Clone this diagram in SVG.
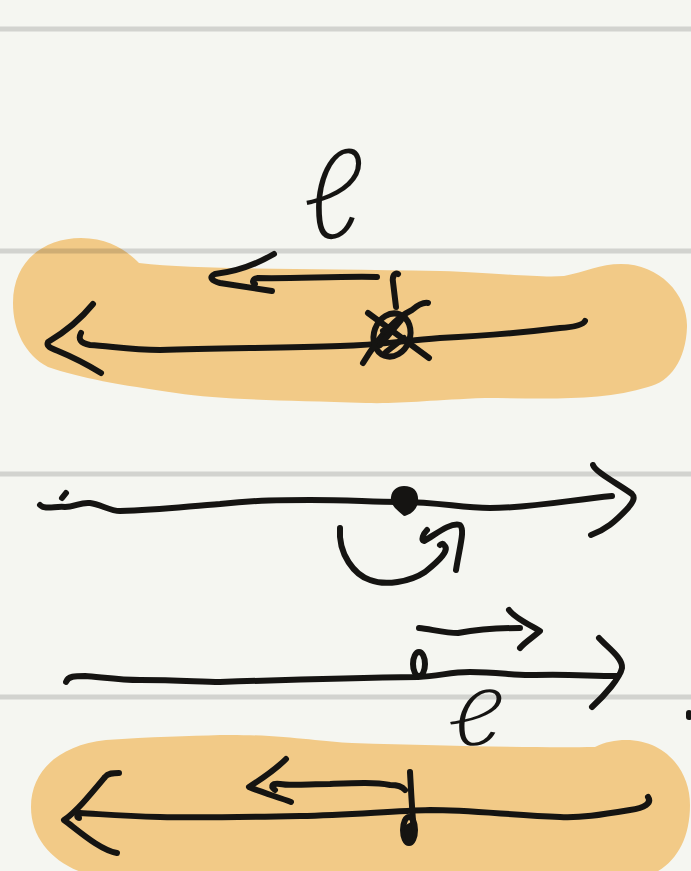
<svg xmlns="http://www.w3.org/2000/svg" width="691" height="871" viewBox="0 0 691 871">
<style>
.ink{fill:none;stroke:#151412;stroke-width:6;stroke-linecap:round;stroke-linejoin:round}
.rule{stroke:#000;stroke-opacity:0.14;stroke-width:5}
.blob{fill:#f2ca87}
.lbl{font-family:Lato,"DejaVu Sans",sans-serif;font-weight:300;fill:#151412}
</style>
<rect width="691" height="871" fill="#f5f6f1"/>
<g id="blobs">
<path class="blob" d="M13,303 C13,260 45,238 81,238 C110,238 128,252 139,263 C200,270 300,268 440,271 C500,273 540,278 564,276 C585,272 600,264 621,264 C660,264 688,295 687,327 C686,360 670,382 648,387 C600,402 540,398 485,398 C430,400 400,404 366,403 C280,400 220,400 176,393 C120,385 80,378 48,367 C25,355 13,330 13,303 Z"/>
<path class="blob" d="M31,807 C31,770 60,745 106,740 C150,737 190,736 220,735 C280,734 320,742 352,743 C450,746 540,748 595,747 C605,742 615,740 626,740 C665,740 690,770 690,805 C690,840 675,865 650,875 L90,875 C55,865 31,840 31,807 Z"/>
</g>
<g id="rules">
<line class="rule" x1="0" y1="29" x2="691" y2="29"/>
<line class="rule" x1="0" y1="251" x2="691" y2="251"/>
<line class="rule" x1="0" y1="474" x2="691" y2="474"/>
<line class="rule" x1="0" y1="697" x2="691" y2="697"/>
</g>
<g id="row1">
<text class="lbl" font-size="125" transform="translate(302 238)">ℓ</text>
<path class="ink" d="M377,277 C340,276 290,279 258,278 C252,279 252,283 255,284"/>
<path class="ink" d="M274,254 C255,265 235,272 215,274 C208,277 212,281 220,283 C240,286 258,289 272,291"/>
<path class="ink" d="M585,321 C583,325 575,327 560,328 C520,333 480,336 440,338 C400,341 380,345 340,346 C280,348 220,348 160,350 C130,350 110,346 90,345 C80,343 78,339 81,333"/>
<path class="ink" d="M93,304 C80,320 65,332 48,342 C46,346 50,348 58,351 C75,358 88,365 101,373"/>
<path class="ink" d="M398,274 C395,272 392,276 393,282 L396,307"/>
<ellipse class="ink" cx="392" cy="335" rx="18" ry="22" transform="rotate(20 392 335)"/>
<path class="ink" d="M368,313 L429,358 M363,363 C380,335 395,318 412,310 C418,305 423,302 428,303"/>
<path class="ink" stroke-width="4" d="M380,345 L401,320 M383,331 L398,323 M386,352 L404,338"/>
</g>
<g id="row2">
<path class="ink" d="M40,505 C45,510 55,506 65,507 C75,507 80,502 90,503 C100,504 110,511 120,511 C160,510 190,506 220,504 C260,500 280,500 310,500 C350,500 370,502 400,502 C440,502 460,508 490,508 C530,508 570,500 612,496"/>
<path class="ink" d="M62,498 L66,493"/>
<path fill="#151412" d="M404,486 C414,486 419,492 418,502 C417,510 410,515 404,516 C397,510 390,505 391,497 C392,490 397,486 404,486 Z"/>
<path class="ink" d="M593,465 C595,472 620,485 632,494 C636,498 632,503 628,508 C615,522 605,530 591,535"/>
<path class="ink" d="M340,528 C338,555 355,575 370,580 C385,586 410,582 425,572 C440,560 450,550 444,545 C443,543 441,544 440,545"/>
<path class="ink" d="M427,530 C423,534 421,540 424,541 C435,535 450,522 460,525 C465,530 460,545 456,570"/>
</g>
<g id="row3">
<path class="ink" d="M66,682 C68,676 75,676 85,676 C100,677 120,680 140,680 C180,680 200,682 220,682 C280,680 340,678 418,677 C440,676 450,672 470,672 C500,672 515,676 535,675 C570,674 590,676 617,676"/>
<ellipse class="ink" cx="419" cy="664" rx="6" ry="12"/>
<path class="ink" d="M599,638 C608,648 623,658 622,668 C620,678 605,695 592,707"/>
<path class="ink" d="M419,628 C430,629 445,633 458,633 C475,630 500,628 520,628"/>
<path class="ink" d="M509,610 C515,618 528,624 540,631 C532,638 525,642 520,648"/>
<path class="ink" d="M689,713 L689,717"/>
<text class="lbl" font-size="78" transform="translate(446 745) scale(1.5 1)">ℓ</text>
</g>
<g id="row4">
<path class="ink" d="M648,797 C652,803 645,808 630,810 C600,815 580,818 560,817 C510,815 470,810 430,810 C390,811 350,815 300,816 C250,817 200,818 160,817 C120,816 100,814 80,813 C76,815 77,818 79,818"/>
<path class="ink" d="M119,773 C113,773 108,773 105,777 C90,795 76,812 64,820 C80,832 100,850 117,853"/>
<path class="ink" d="M405,790 C402,786 398,785 390,785 C375,782 355,783 330,784 C310,784 290,786 280,784 C272,783 270,786 275,790"/>
<path class="ink" d="M286,759 C275,770 260,780 249,787 C260,792 278,797 291,802"/>
<path class="ink" d="M410,772 C411,790 412,810 414,833"/>
<ellipse class="ink" cx="409" cy="830" rx="6" ry="13"/>
<path fill="#151412" d="M404,826 L411,822 L413,840 L406,842 Z"/>
</g>
</svg>
